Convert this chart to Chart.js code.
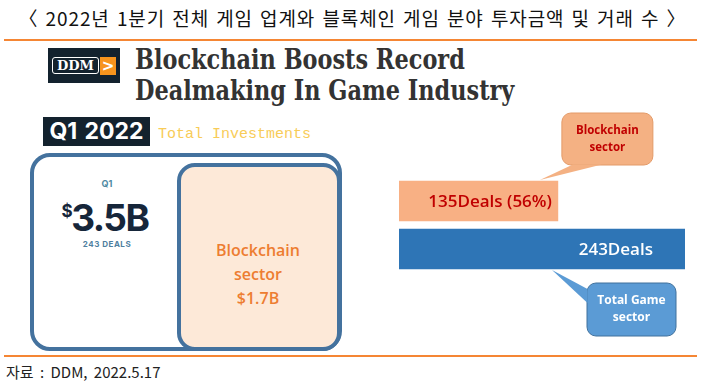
<!DOCTYPE html>
<html>
<head>
<meta charset="utf-8">
<script src="https://cdn.jsdelivr.net/npm/chart.js@4"></script>
<style>
    body { margin: 0; width: 705px; height: 389px; background: #fff; position: relative; overflow: hidden; font-family: "Noto Sans", sans-serif; }
    .abs { position: absolute; }
    .heading { left: 0; width: 705px; top: 4px; text-align: center; font-family: "Noto Sans CJK KR"; font-size: 19px; color: #111; letter-spacing: 0.9px; word-spacing: 2px; }
    .rule { left: 4px; width: 693px; height: 2px; background: #F58634; }
    .logo { left: 48px; top: 48px; width: 72px; height: 35px; background: #13222e; }
    .logo .ddm { position: absolute; left: 4px; top: 9px; width: 45px; height: 15px; border: 1.5px solid #fff; border-radius: 3px; color: #fff; font: bold 13px "DejaVu Serif"; line-height: 15px; text-align: center; }
    .logo .arr { position: absolute; left: 52px; top: 9px; width: 16px; height: 18px; background: #F7941D; color: #fff; font: bold 15px "DejaVu Sans"; line-height: 18px; text-align: center; }
    .title { left: 135px; top: 44px; font-family: "DejaVu Serif"; font-weight: bold; font-size: 27px; line-height: 31px; color: #333; transform-origin: 0 0; transform: scaleX(0.83); white-space: nowrap; }
    .q1box { left: 43px; top: 117px; width: 107px; height: 29px; background: #13222e; color: #fff; font: bold 23px Inter; line-height: 29px; text-align: center; word-spacing: 2px; }
    .totinv { left: 158px; top: 126px; font: 15px "Liberation Mono"; color: #F8CC58; }
    .outer { left: 30px; top: 153px; width: 304px; height: 190px; border: 4px solid #44729e; border-radius: 20px; }
    .inner { left: 177px; top: 163px; width: 156px; height: 180px; border: 4px solid #44729e; border-radius: 18px; background: #FDE9D8; }
    .q1 { left: 87px; top: 178px; width: 40px; text-align: center; font: bold 9px Inter; color: #4f8aa3; }
    .big { left: 45px; top: 195px; width: 120px; height: 40px; line-height: 40px; text-align: center; font: bold 37px Inter; color: #16263a; letter-spacing: -1.5px; }
    .big sup { font-size: 17px; vertical-align: 14px; line-height: 0; }
    .deals { left: 67px; top: 239px; width: 80px; text-align: center; font: bold 8px Inter; line-height: 10px; color: #4f7fa0; letter-spacing: 0.5px; }
    .bsec { left: 180px; top: 238px; width: 156px; text-align: center; font: 600 16px "Open Sans"; color: #ED7D31; line-height: 24px; }
    .source { left: 6px; top: 361px; font: 15px "Noto Sans CJK KR"; color: #222; word-spacing: 3px; }
    #wrap { left: 380px; top: 100px; width: 325px; height: 250px; }
</style>
</head>
<body>
<div class="abs heading">〈 2022년 1분기 전체 게임 업계와 블록체인 게임 분야 투자금액 및 거래 수 〉</div>
<div class="abs rule" style="top:39px"></div>
<div class="abs logo"><div class="ddm">DDM</div><div class="arr">&gt;</div></div>
<div class="abs title">Blockchain Boosts Record<br>Dealmaking In Game Industry</div>
<div class="abs q1box">Q1 2022</div>
<div class="abs totinv">Total Investments</div>
<div class="abs outer"></div>
<div class="abs inner"></div>
<div class="abs q1">Q1</div>
<div class="abs big"><sup>$</sup>3.5B</div>
<div class="abs deals">243 DEALS</div>
<div class="abs bsec">Blockchain<br>sector<br>$1.7B</div>
<div class="abs rule" style="top:355px"></div>
<div class="abs source">자료 : DDM, 2022.5.17</div>
<div class="abs" id="wrap"><canvas id="chart" width="325" height="250"></canvas></div>

<script>
// 카테고리 / 값
const categories = ['Blockchain sector', 'Total Game sector'];
const dealCounts = [135, 243];
const barLabels = ['135Deals (56%)', '243Deals'];
const calloutLines = [['Blockchain', 'sector'], ['Total Game', 'sector']];

const barColors = ['#F8B084', '#2E75B6'];
const labelColors = ['#C00000', '#ffffff'];

// 말풍선 그리기
function roundRect(ctx, x, y, w, h, r) {
    ctx.beginPath();
    ctx.moveTo(x + r, y);
    ctx.arcTo(x + w, y, x + w, y + h, r);
    ctx.arcTo(x + w, y + h, x, y + h, r);
    ctx.arcTo(x, y + h, x, y, r);
    ctx.arcTo(x, y, x + w, y, r);
    ctx.closePath();
}

const calloutPlugin = {
    id: 'callouts',
    afterDatasetsDraw(chart) {
        const ctx = chart.ctx;
        const bars = chart.getDatasetMeta(0).data;
        ctx.save();

        // 막대 안 라벨
        ctx.font = '600 17px "Open Sans"';
        ctx.textAlign = 'right';
        ctx.textBaseline = 'middle';
        bars.forEach((bar, i) => {
            ctx.fillStyle = labelColors[i];
            ctx.fillText(barLabels[i], bar.x - (i === 0 ? 6 : 32), bar.y + 1);
        });

        // 위 말풍선 (블록체인)
        const b0 = bars[0];
        let bx = b0.x + 4, by = b0.y - 88, bw = 91, bh = 52;
        ctx.fillStyle = '#F4B183';
        ctx.strokeStyle = '#E39A68';
        ctx.lineWidth = 1;
        roundRect(ctx, bx, by, bw, bh, 9);
        ctx.fill();
        ctx.stroke();
        ctx.beginPath();
        ctx.moveTo(bx + 11, by + bh - 0.5);
        ctx.lineTo(b0.x - 18, b0.y - 21);
        ctx.lineTo(bx + 40, by + bh - 0.5);
        ctx.closePath();
        ctx.fill();
        ctx.fillStyle = '#C00000';
        ctx.font = 'bold 11.5px "Open Sans"';
        ctx.textAlign = 'center';
        ctx.fillText(calloutLines[0][0], bx + bw / 2, by + 18);
        ctx.fillText(calloutLines[0][1], bx + bw / 2, by + 35);

        // 아래 말풍선 (전체 게임)
        const b1 = bars[1];
        bx = b1.x - 98; by = b1.y + 34; bw = 89; bh = 53;
        ctx.fillStyle = '#5B9BD5';
        ctx.strokeStyle = '#41719C';
        roundRect(ctx, bx, by, bw, bh, 9);
        ctx.fill();
        ctx.stroke();
        ctx.beginPath();
        ctx.moveTo(bx + 0.5, by + 6);
        ctx.lineTo(b1.x - 133, b1.y + 21);
        ctx.lineTo(bx + 0.5, by + 20);
        ctx.closePath();
        ctx.fill();
        ctx.fillStyle = '#ffffff';
        ctx.font = 'bold 12px "Open Sans"';
        ctx.fillText(calloutLines[1][0], bx + bw / 2, by + 18);
        ctx.fillText(calloutLines[1][1], bx + bw / 2, by + 35);
        ctx.restore();
    }
};

new Chart(document.getElementById('chart'), {
    type: 'bar',
    data: {
        labels: categories,
        datasets: [{
            data: dealCounts,
            backgroundColor: barColors,
            barThickness: 40,
            borderWidth: 0
        }]
    },
    options: {
        indexAxis: 'y',
        responsive: false,
        maintainAspectRatio: false,
        animation: false,
        layout: { padding: { left: 19, right: 20, top: 77, bottom: 77 } },
        scales: {
            x: { display: false, min: 0, max: 243 },
            y: { display: false }
        },
        plugins: { legend: { display: false }, tooltip: { enabled: false } }
    },
    plugins: [calloutPlugin]
});
</script>
</body>
</html>
